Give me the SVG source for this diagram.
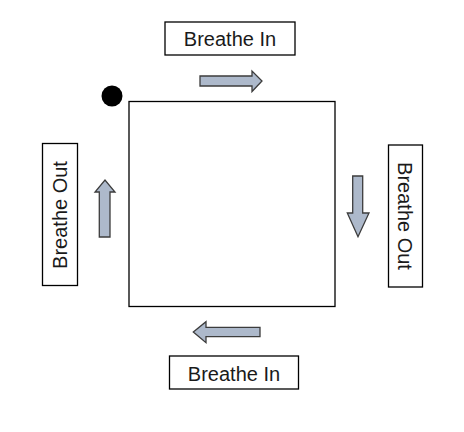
<svg xmlns="http://www.w3.org/2000/svg" width="464" height="432" viewBox="0 0 464 432">
<style>
.box{fill:#fff;stroke:#000;stroke-width:1.3}
.lbl{font-family:"Liberation Sans",Arial,sans-serif;font-size:20px;fill:#1a1a1a;text-anchor:middle}
.arr{fill:#adb9cb;stroke:#3c3c3c;stroke-width:1.3;stroke-linejoin:miter}
</style>
<rect width="464" height="432" fill="#fff"/>
<g id="square"><rect class="box" x="129" y="101.5" width="206" height="205"/></g>
<g id="start-dot"><circle cx="112" cy="96" r="10.5" fill="#000"/></g>
<g id="top-label"><rect class="box" x="165" y="22" width="130" height="33"/><text class="lbl" x="230" y="46">Breathe In</text></g>
<g id="bottom-label"><rect class="box" x="169.5" y="356" width="129" height="33"/><text class="lbl" x="234" y="381">Breathe In</text></g>
<g id="left-label"><rect class="box" x="42.5" y="143.5" width="35" height="142"/><text class="lbl" transform="translate(67,215) rotate(-90)" x="0" y="0">Breathe Out</text></g>
<g id="right-label"><rect class="box" x="388.5" y="145" width="34" height="142"/><text class="lbl" transform="translate(398,216) rotate(90)" x="0" y="0">Breathe Out</text></g>
<g id="connectors">
<polygon class="arr" points="200,76 252,76 252,71 262,81 252,91.5 252,86 200,86"/>
<polygon class="arr" points="352.7,176 362.7,176 362.7,213 369,213 358,236.7 347.3,213 352.7,213"/>
<polygon class="arr" points="260,327.3 206,327.3 206,321.7 193.3,332 206,342.7 206,336.7 260,336.7"/>
<polygon class="arr" points="99.3,237 110,237 110,192 115,192 105,180 95,192 99.3,192"/>
</g>
</svg>
